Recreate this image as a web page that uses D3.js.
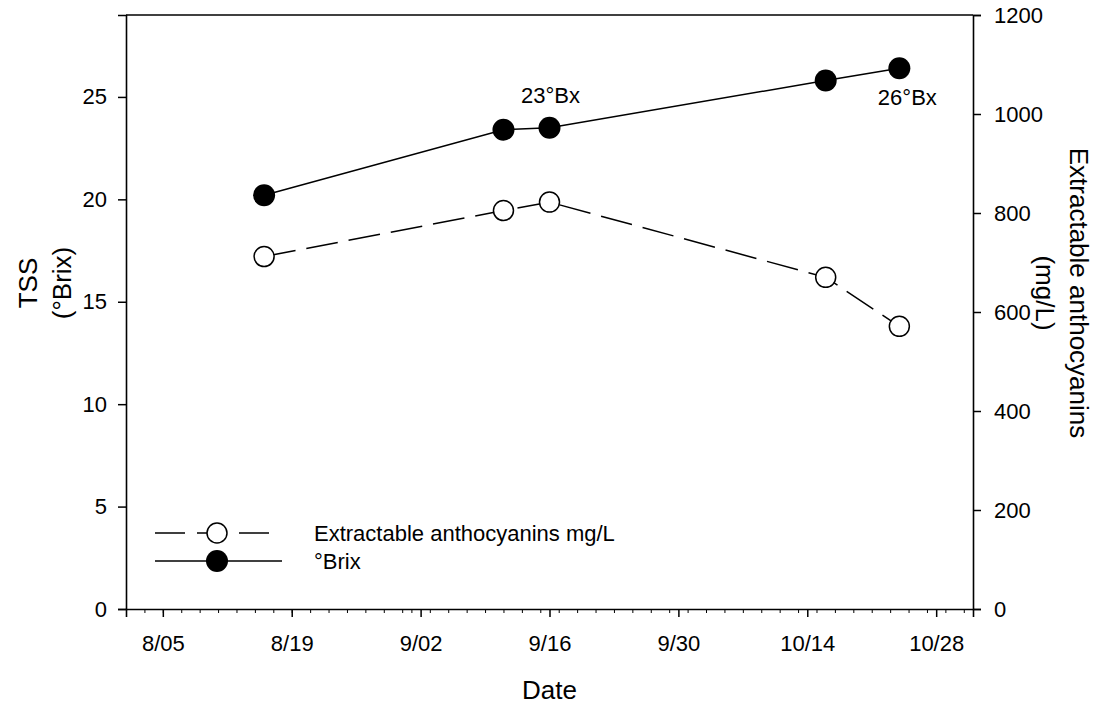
<!DOCTYPE html>
<html>
<head>
<meta charset="utf-8">
<script src="https://cdn.jsdelivr.net/npm/d3@7"></script>
<style>
  body { margin: 0; background: #fff; }
  text { font-family: "Liberation Sans", Arial, sans-serif; fill: #000; }
</style>
</head>
<body>
<div id="chart"></div>
<script>
  // sampling dates and values
  var dates = ["2011-08-16", "2011-09-11", "2011-09-16", "2011-10-16", "2011-10-24"];
  var brix = [20.2, 23.4, 23.5, 25.8, 26.4];
  var antho = [712, 805, 822, 670, 571];

  var leftTicks = [0, 5, 10, 15, 20, 25];
  var rightTicks = [0, 200, 400, 600, 800, 1000, 1200];
  var notes = [{i: 2, label: "23°Bx", dx: 1, dy: -25}, {i: 4, label: "26°Bx", dx: 8, dy: 37}];
  var legendItems = ["Extractable anthocyanins mg/L", "°Brix"];

  var margin = {top: 15, right: 128, bottom: 97, left: 126},
      width = 1101 - margin.left - margin.right,
      height = 706 - margin.top - margin.bottom;

  var parse = d3.utcParse("%Y-%m-%d");
  var data = dates.map(function (d, i) {
    return {date: parse(d), brix: brix[i], antho: antho[i]};
  });

  var svg = d3.select("#chart")
    .append("svg")
      .attr("width", 1101)
      .attr("height", 706)
    .append("g")
      .attr("transform", "translate(" + margin.left + "," + margin.top + ")");

  var x = d3.scaleUtc()
    .domain([parse("2011-08-01"), parse("2011-11-01")])
    .range([0, width]);
  var yL = d3.scaleLinear().domain([0, 29]).range([height, 0]);
  var yR = d3.scaleLinear().domain([0, 1200]).range([height, 0]);

  // minor ticks every 2 days
  var minor = d3.utcDay.every(2).range(parse("2011-08-01"), parse("2011-11-02"));
  svg.append("g")
    .attr("transform", "translate(0," + height + ")")
    .call(d3.axisBottom(x).tickValues(minor).tickSize(4).tickFormat(""))
    .call(function (g) { g.select(".domain").remove(); })
    .selectAll("line").attr("stroke-width", 1);

  var major = d3.utcDay.every(1).range(parse("2011-08-05"), parse("2011-10-29"))
    .filter(function (d, i) { return i % 14 === 0; });

  var xAxis = svg.append("g")
    .attr("transform", "translate(0," + height + ")")
    .call(d3.axisBottom(x).tickValues(major).tickSize(8).tickPadding(18)
      .tickFormat(d3.utcFormat("%-m/%d")));

  var yAxisL = svg.append("g")
    .call(d3.axisLeft(yL).tickValues(leftTicks).tickSize(8).tickPadding(11));

  var yAxisR = svg.append("g")
    .attr("transform", "translate(" + width + ",0)")
    .call(d3.axisRight(yR).tickValues(rightTicks).tickSize(8).tickPadding(13)
      .tickFormat(d3.format("d")));

  [xAxis, yAxisL, yAxisR].forEach(function (a) {
    a.selectAll("text").style("font-size", "22px");
    a.selectAll("line").attr("stroke-width", 1.5);
    a.select(".domain").attr("stroke-width", 1.6);
  });

  // top border of the frame
  svg.append("line")
    .attr("x1", 0).attr("x2", width).attr("y1", 0).attr("y2", 0)
    .attr("stroke", "#000").attr("stroke-width", 1.6);

  // lines
  var lineB = d3.line().x(function (d) { return x(d.date); }).y(function (d) { return yL(d.brix); });
  var lineA = d3.line().x(function (d) { return x(d.date); }).y(function (d) { return yR(d.antho); });

  svg.append("path").datum(data)
    .attr("d", lineA).attr("fill", "none")
    .attr("stroke", "#000").attr("stroke-width", 1.5)
    .attr("stroke-dasharray", "32,11");

  svg.append("path").datum(data)
    .attr("d", lineB).attr("fill", "none")
    .attr("stroke", "#000").attr("stroke-width", 1.5);

  svg.append("g").selectAll("circle").data(data).enter()
    .append("circle")
      .attr("cx", function (d) { return x(d.date); })
      .attr("cy", function (d) { return yR(d.antho); })
      .attr("r", 10)
      .attr("fill", "#fff").attr("stroke", "#000").attr("stroke-width", 1.5);

  svg.append("g").selectAll("circle").data(data).enter()
    .append("circle")
      .attr("cx", function (d) { return x(d.date); })
      .attr("cy", function (d) { return yL(d.brix); })
      .attr("r", 11)
      .attr("fill", "#000");

  // annotations
  svg.selectAll(".note").data(notes).enter()
    .append("text")
      .attr("class", "note")
      .attr("x", function (d) { return x(data[d.i].date) + d.dx; })
      .attr("y", function (d) { return yL(data[d.i].brix) + d.dy; })
      .attr("text-anchor", "middle")
      .style("font-size", "22px")
      .text(function (d) { return d.label; });

  // legend
  var lg = svg.append("g").attr("transform", "translate(29,518)");
  lg.append("line").attr("x1", 0).attr("x2", 114).attr("y1", 0).attr("y2", 0)
    .attr("stroke", "#000").attr("stroke-width", 1.5).attr("stroke-dasharray", "30,12");
  lg.append("circle").attr("cx", 62).attr("cy", 0).attr("r", 10)
    .attr("fill", "#fff").attr("stroke", "#000").attr("stroke-width", 1.5);
  lg.append("line").attr("x1", 0).attr("x2", 127).attr("y1", 28).attr("y2", 28)
    .attr("stroke", "#000").attr("stroke-width", 1.5);
  lg.append("circle").attr("cx", 62).attr("cy", 28).attr("r", 11).attr("fill", "#000");
  lg.selectAll(".lt").data(legendItems).enter()
    .append("text")
      .attr("x", 159)
      .attr("y", function (d, i) { return i * 28; })
      .attr("dy", "0.36em")
      .style("font-size", "22px")
      .text(function (d) { return d; });

  // axis titles
  svg.append("text")
    .attr("x", width / 2).attr("y", 684)
    .attr("text-anchor", "middle")
    .style("font-size", "26px")
    .text("Date");

  var tl = svg.append("g").attr("transform", "translate(" + (28 - margin.left) + ",268) rotate(-90)");
  tl.append("text").attr("text-anchor", "middle").attr("dy", "0.35em").style("font-size", "26px").text("TSS");
  tl.append("text").attr("text-anchor", "middle").attr("y", 34).attr("dy", "0.35em").style("font-size", "26px").text("(°Brix)");

  var tr = svg.append("g").attr("transform", "translate(" + (1079 - margin.left) + ",278) rotate(90)");
  tr.append("text").attr("text-anchor", "middle").attr("dy", "0.35em").style("font-size", "26px").text("Extractable anthocyanins");
  tr.append("text").attr("text-anchor", "middle").attr("y", 34).attr("dy", "0.35em").style("font-size", "26px").text("(mg/L)");
</script>
</body>
</html>
